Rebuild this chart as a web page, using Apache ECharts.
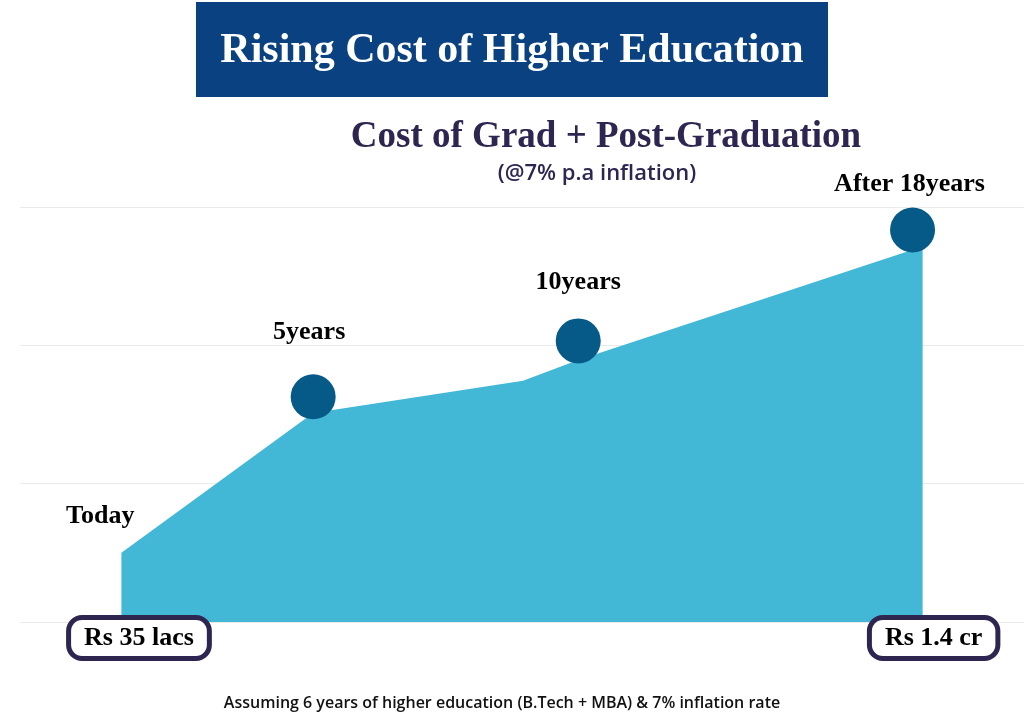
<!DOCTYPE html>
<html>
<head>
<meta charset="utf-8">
<title>Rising Cost of Higher Education</title>
<script src="https://cdn.jsdelivr.net/npm/echarts@6/dist/echarts.min.js"></script>
<style>
  html, body { margin: 0; padding: 0; background: #ffffff; }
  #main { width: 1024px; height: 724px; }
</style>
</head>
<body>
<div id="main"></div>
<script>
// area outline (x in arbitrary 0-100 units across the plot, y in lakhs-ish units)
var areaX = [10.1, 29.2, 50.1, 55.6, 89.9];
var areaY = [25, 75.5, 87.2, 94.7, 135.7];

// milestone dots
var dotX = [29.2, 55.6, 88.9];
var dotY = [81.4, 101.6, 141.7];

// milestone captions
var captionNames = ["Today", "5years", "10years", "After 18years"];
var captionX = [8.0, 28.8, 55.6, 88.6];
var captionY = [38.3, 104.8, 122.9, 158.3];

// boxed amounts under the axis
var amountNames = ["Rs 35 lacs", "Rs 1.4 cr"];
var amountX = [11.85, 91.0];
var amountY = [-5.8, -5.8];

var chartDom = document.getElementById("main");
var myChart = echarts.init(chartDom);
var option;

function pairs(xs, ys, names) {
  return xs.map(function (x, i) {
    var d = { value: [x, ys[i]] };
    if (names) d.name = names[i];
    return d;
  });
}

var serifFont = "'Liberation Serif', 'DejaVu Serif', serif";
var sansFont = "'Open Sans', 'Noto Sans', sans-serif";

option = {
  backgroundColor: "#ffffff",
  animation: false,
  title: [
    {
      text: "Rising Cost of Higher Education",
      left: "center",
      top: 25,
      textStyle: { color: "#ffffff", fontFamily: serifFont, fontSize: 42, fontWeight: "bold" }
    },
    {
      text: "Cost of Grad + Post-Graduation",
      left: 601,
      textAlign: "center",
      top: 114,
      textStyle: { color: "#2e2650", fontFamily: serifFont, fontSize: 37, fontWeight: "bold" }
    },
    {
      text: "(@7% p.a inflation)",
      left: 592,
      textAlign: "center",
      top: 158,
      textStyle: { color: "#2e2650", fontFamily: sansFont, fontSize: 22, fontWeight: 600 }
    },
    {
      text: "Assuming 6 years of higher education (B.Tech + MBA) & 7% inflation rate",
      left: 497,
      textAlign: "center",
      top: 690,
      textStyle: { color: "#111111", fontFamily: sansFont, fontSize: 16, fontWeight: 600 }
    }
  ],
  graphic: [
    {
      type: "rect",
      z: -1,
      shape: { x: 196, y: 2, width: 632, height: 95 },
      style: { fill: "#0a4181" }
    }
  ],
  grid: { left: 20, right: 0, top: 207, bottom: 102 },
  xAxis: {
    type: "value",
    min: 0,
    max: 100,
    show: false
  },
  yAxis: {
    type: "value",
    min: 0,
    max: 150,
    interval: 50,
    axisLine: { show: false },
    axisTick: { show: false },
    axisLabel: { show: false },
    splitLine: { lineStyle: { color: "#ebebeb", width: 1 } }
  },
  series: [
    {
      type: "line",
      data: pairs(areaX, areaY),
      symbol: "none",
      lineStyle: { width: 0 },
      areaStyle: { color: "#42b8d6", opacity: 1 },
      z: 2
    },
    {
      type: "scatter",
      data: pairs(dotX, dotY),
      symbolSize: 45,
      itemStyle: { color: "#065a87", opacity: 1 },
      z: 3
    },
    {
      type: "scatter",
      clip: false,
      data: pairs(captionX, captionY, captionNames),
      symbolSize: 1,
      itemStyle: { color: "#ffffff", opacity: 1 },
      label: {
        show: true,
        position: "inside",
        formatter: "{b}",
        color: "#000000",
        fontFamily: serifFont,
        fontSize: 26,
        fontWeight: "bold"
      },
      z: 4
    },
    {
      type: "scatter",
      clip: false,
      data: pairs(amountX, amountY, amountNames),
      symbolSize: 1,
      itemStyle: { color: "#ffffff", opacity: 1 },
      label: {
        show: true,
        position: "inside",
        formatter: "{b}",
        color: "#000000",
        fontFamily: serifFont,
        fontSize: 26,
        fontWeight: "bold",
        backgroundColor: "#ffffff",
        borderColor: "#2e2650",
        borderWidth: 5,
        borderRadius: 11,
        padding: [6, 13, 4, 13]
      },
      z: 5
    }
  ]
};

option && myChart.setOption(option);
</script>
</body>
</html>
